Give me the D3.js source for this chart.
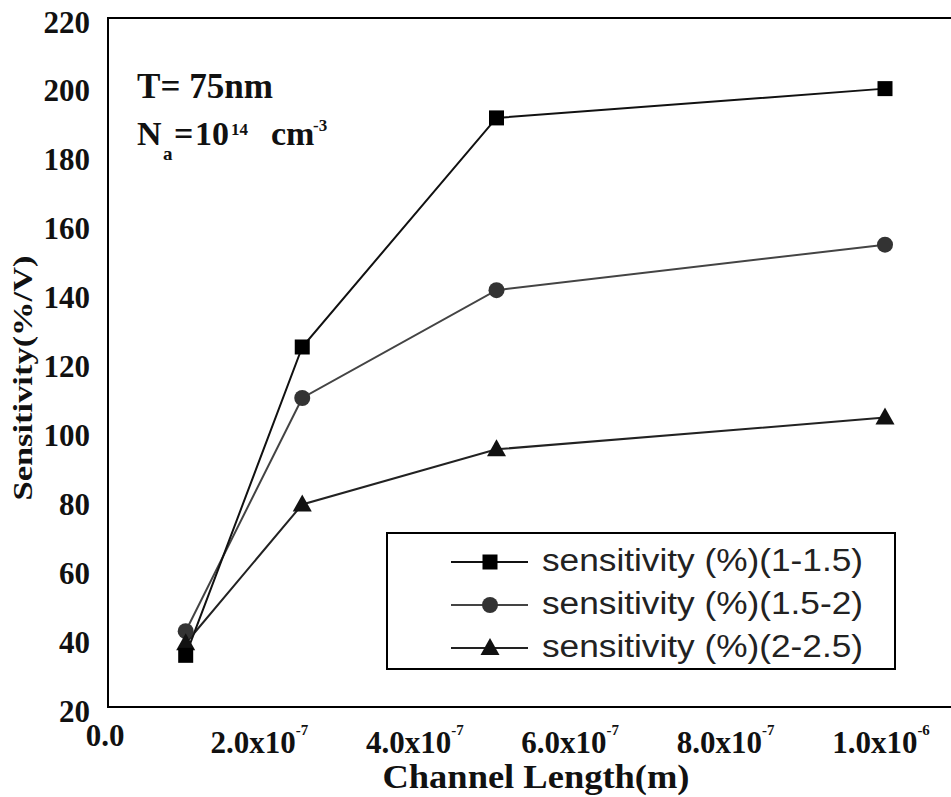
<!DOCTYPE html>
<html>
<head>
<meta charset="utf-8">
<script src="https://cdn.jsdelivr.net/npm/d3@7/dist/d3.min.js"></script>
<style>
  html, body { margin: 0; padding: 0; background: #fff; }
  svg { display: block; }
</style>
</head>
<body>
<svg id="chart" width="951" height="797"></svg>
<script>
// ---- data ----
const channelLength = [1.0e-7, 2.5e-7, 5.0e-7, 1.0e-6];
const sens_1_15 = [35, 124.5, 191, 199.5];
const sens_15_2 = [42, 109.7, 141, 154.2];
const sens_2_25 = [38.5, 78.8, 94.8, 104];
const seriesNames = ["sensitivity (%)(1-1.5)", "sensitivity (%)(1.5-2)", "sensitivity (%)(2-2.5)"];
const yTicks = [20, 40, 60, 80, 100, 120, 140, 160, 180, 200, 220];
const xTicks = [0, 2e-7, 4e-7, 6e-7, 8e-7, 1e-6];
const xTickMant = ["0.0", "2.0x10", "4.0x10", "6.0x10", "8.0x10", "1.0x10"];
const xTickExp = ["", "-7", "-7", "-7", "-7", "-6"];

(function () {
const svg = d3.select("#chart");
const plotLeft = 108, plotTop = 18, plotBottom = 707, plotRightData = 885;

const x = d3.scaleLinear().domain([0, 1e-6]).range([plotLeft, plotRightData]);
const y = d3.scaleLinear().domain([20, 220]).range([plotBottom, plotTop]);

const SERIF = '"Liberation Serif"';
const SANS = '"Liberation Sans"';
function serifText(sel, size) {
  return sel.style("font-family", SERIF).style("font-weight", "bold").style("font-size", size + "px");
}

// frame (right side is cropped off the picture)
svg.append("rect")
  .attr("x", plotLeft).attr("y", y(220))
  .attr("width", 960 - plotLeft).attr("height", y(20) - y(220))
  .attr("fill", "none").attr("stroke", "#000").attr("stroke-width", 2);

// y axis labels
const yAxis = d3.axisLeft(y).tickValues(yTicks).tickSize(0).tickPadding(18);
const gy = svg.append("g").attr("transform", `translate(${plotLeft},0)`).call(yAxis);
gy.select(".domain").remove();
serifText(gy.selectAll("text"), 31).attr("fill", "#111").attr("dy", "14px");

// x axis labels
const gx = svg.append("g");
xTicks.forEach((t, i) => {
  const txt = serifText(gx.append("text"), 31)
    .attr("x", x(t) - (i === 0 ? 3 : 4))
    .attr("y", i === 0 ? 746 : 753)
    .attr("text-anchor", "middle")
    .attr("fill", "#111");
  txt.append("tspan").text(xTickMant[i]);
  if (xTickExp[i]) {
    txt.append("tspan").style("font-size", "15px").attr("dy", -18).text(xTickExp[i]);
  }
});

// axis titles
serifText(svg.append("text"), 33)
  .attr("x", 536).attr("y", 788)
  .attr("text-anchor", "middle")
  .attr("textLength", 307).attr("lengthAdjust", "spacingAndGlyphs")
  .attr("fill", "#111")
  .text("Channel Length(m)");

serifText(svg.append("text"), 27)
  .attr("transform", "translate(32,378) rotate(-90)")
  .attr("text-anchor", "middle")
  .attr("textLength", 245).attr("lengthAdjust", "spacingAndGlyphs")
  .attr("fill", "#111")
  .text("Sensitivity(%/V)");

// annotations
serifText(svg.append("text"), 36)
  .attr("x", 137).attr("y", 98)
  .attr("textLength", 136).attr("lengthAdjust", "spacingAndGlyphs")
  .attr("fill", "#111")
  .text("T= 75nm");

const ann2 = svg.append("g").attr("fill", "#111");
const annParts = [
  ["N", 137, 145, 34], ["a", 163, 160, 19], ["=", 174, 145, 34], ["10", 195, 145, 34],
  ["14", 231, 135, 17], ["cm", 271, 145, 34], ["-3", 313, 131, 17]
];
annParts.forEach(p => {
  serifText(ann2.append("text"), p[3]).attr("x", p[1]).attr("y", p[2]).text(p[0]);
});

// series
const series = [
  { name: seriesNames[0], values: sens_1_15, line: "#111", fill: "#000", shape: "square" },
  { name: seriesNames[1], values: sens_15_2, line: "#444", fill: "#333", shape: "circle" },
  { name: seriesNames[2], values: sens_2_25, line: "#222", fill: "#111", shape: "triangle" }
];

function drawMarker(g, shape, cx, cy, fill) {
  if (shape === "square") {
    g.append("rect").attr("x", cx - 7.5).attr("y", cy - 7.5).attr("width", 15).attr("height", 15).attr("fill", fill);
  } else if (shape === "circle") {
    g.append("circle").attr("cx", cx).attr("cy", cy).attr("r", 8).attr("fill", fill);
  } else {
    g.append("path").attr("d", `M${cx},${cy - 10}L${cx + 9.5},${cy + 7}L${cx - 9.5},${cy + 7}Z`).attr("fill", fill);
  }
}

const line = d3.line().x(d => x(d[0])).y(d => y(d[1]));
series.slice().reverse().forEach(s => {
  const pts = channelLength.map((c, i) => [c, s.values[i]]);
  svg.append("path").datum(pts).attr("d", line)
    .attr("fill", "none").attr("stroke", s.line).attr("stroke-width", 2);
});
[series[1], series[2], series[0]].forEach(s => {
  const g = svg.append("g");
  channelLength.forEach((c, i) => drawMarker(g, s.shape, x(c), y(s.values[i]), s.fill));
});

// legend
const lg = svg.append("g");
lg.append("rect").attr("x", 387).attr("y", 533).attr("width", 508).attr("height", 136)
  .attr("fill", "#fff").attr("stroke", "#000").attr("stroke-width", 2);
series.forEach((s, i) => {
  const ry = 562 + i * 43;
  lg.append("line").attr("x1", 451).attr("x2", 528).attr("y1", ry).attr("y2", ry)
    .attr("stroke", s.line).attr("stroke-width", 2);
  drawMarker(lg, s.shape, 490, ry, s.fill);
  lg.append("text").attr("x", 542).attr("y", ry + 9)
    .style("font-family", SANS).style("font-size", "31px")
    .attr("textLength", 321).attr("lengthAdjust", "spacingAndGlyphs")
    .attr("fill", "#222").text(s.name);
});
})();
</script>
</body>
</html>
